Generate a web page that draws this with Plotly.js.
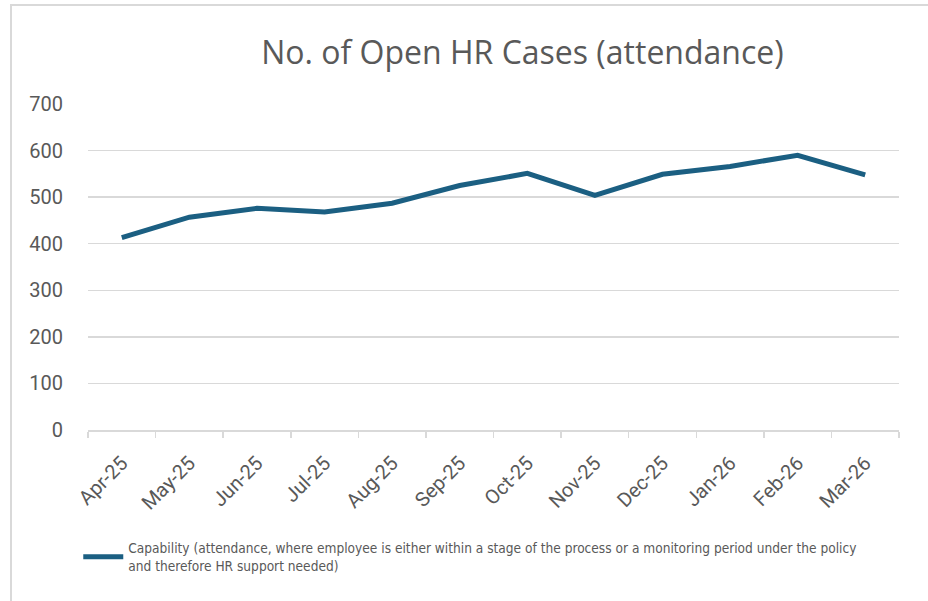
<!DOCTYPE html>
<html>
<head>
<meta charset="utf-8">
<script src="https://cdn.plot.ly/plotly-3.0.1.min.js"></script>
<style>
html,body{margin:0;padding:0;background:#fff;}
#wrap{position:relative;width:928px;height:601px;overflow:hidden;}
#chart{width:928px;height:601px;}
#frame{position:absolute;left:10px;top:4px;width:1000px;height:700px;border-top:2px solid #d9d9d9;border-left:2px solid #d9d9d9;pointer-events:none;}
</style>
</head>
<body>
<div id="wrap"><div id="chart"></div><div id="frame"></div></div>
<script>
const months = ["Apr-25","May-25","Jun-25","Jul-25","Aug-25","Sep-25","Oct-25","Nov-25","Dec-25","Jan-26","Feb-26","Mar-26"];
const openCases = [413, 457, 476, 468, 487, 525, 551, 504, 549, 566, 590, 548];
const seriesName = "Capability (attendance, where employee is either within a stage of the process or a monitoring period under the policy<br>and therefore HR support needed)";
const chartTitle = "No. of Open HR Cases (attendance)";
const yTicks = [0,100,200,300,400,500,600,700];

Plotly.newPlot("chart", [{
  x: months, y: openCases, type: "scatter", mode: "lines",
  name: seriesName,
  line: {color: "#1B5F82", width: 5}
}], {
  width: 928, height: 601,
  paper_bgcolor: "rgba(0,0,0,0)", plot_bgcolor: "#fff",
  margin: {l: 88, r: 29, t: 104, b: 171},
  title: {text: chartTitle, x: 0.563, xanchor: "center", y: 0.912, yanchor: "middle",
          font: {family: "'Open Sans', Roboto, Arial, sans-serif", size: 32, color: "#595959"}},
  showlegend: true,
  legend: {orientation: "h", x: -0.012, xanchor: "left", y: -0.315, yanchor: "top",
           font: {family: "'Liberation Sans Narrow', 'DejaVu Sans Condensed', sans-serif", size: 13.6, color: "#595959"},
           itemwidth: 40, tracegroupgap: 0},
  xaxis: {type: "category", range: [-0.5, 11.5], tickangle: -45, tickson: "boundaries", ticks: "outside", ticklen: 6, tickcolor: "#d9d9d9", tickwidth: 1.5,
          showline: true, linecolor: "#d9d9d9", linewidth: 1.5, showgrid: false, zeroline: false, ticklabelstandoff: 12,
          tickfont: {family: "Roboto, Arial, sans-serif", size: 20, color: "#595959"}, fixedrange: true},
  yaxis: {range: [0, 700], tickvals: yTicks, showgrid: true, gridcolor: "#d9d9d9", gridwidth: 1.5, zeroline: false,
          showline: false, ticks: "", ticklabelstandoff: 24,
          tickfont: {family: "Roboto, Arial, sans-serif", size: 20, color: "#595959"}, fixedrange: true}
}, {displayModeBar: false, staticPlot: true});
</script>
</body>
</html>
